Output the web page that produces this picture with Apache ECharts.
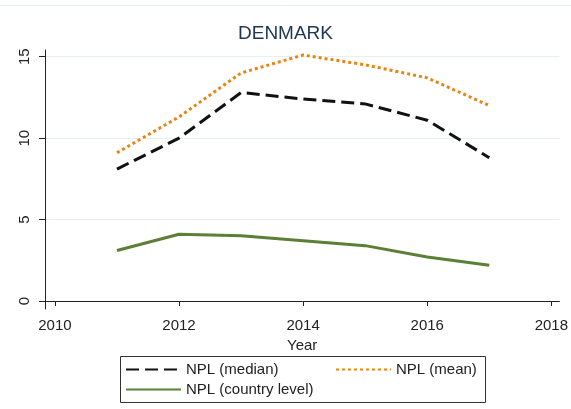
<!DOCTYPE html>
<html>
<head>
<meta charset="utf-8">
<script src="https://cdn.jsdelivr.net/npm/echarts@6/dist/echarts.min.js"></script>
<style>
  html, body { margin: 0; padding: 0; background: #fff; }
  #chart { width: 571px; height: 409px; }
</style>
</head>
<body>
<div id="chart"></div>
<script>
// values
var years = [2011, 2012, 2013, 2014, 2015, 2016, 2017];
var nplMedian = [8.1, 10.0, 12.8, 12.4, 12.1, 11.1, 8.8];
var nplMean = [9.1, 11.3, 14.0, 15.1, 14.5, 13.7, 12.0];
var nplCountry = [3.1, 4.1, 4.0, 3.7, 3.4, 2.7, 2.2];
var xTicks = [2010, 2012, 2014, 2016, 2018];
var yTicks = [0, 5, 10, 15];

function pairs(vals) {
    return years.map(function (y, i) { return [y, vals[i]]; });
}

var font = 'Arial, "Liberation Sans", sans-serif';
var axisColor = '#222';
var noSymbol = { color: 'transparent', borderColor: 'transparent', borderWidth: 0 };

var chart = echarts.init(document.getElementById('chart'));
chart.setOption({
    backgroundColor: '#fff',
    animation: false,
    title: {
        text: 'DENMARK',
        left: 'center',
        top: 19,
        textStyle: { fontFamily: font, fontSize: 19, fontWeight: 'normal', color: '#1e3553' }
    },
    grid: { left: 45, right: 11, top: 50, bottom: 100 },
    xAxis: {
        type: 'value',
        min: 2009.84,
        max: 2018.13,
        name: 'Year',
        nameLocation: 'middle',
        nameGap: 25,
        nameTextStyle: { fontFamily: font, fontSize: 15, color: axisColor },
        axisLine: { lineStyle: { color: axisColor, width: 1 } },
        axisTick: { length: 5, customValues: xTicks, lineStyle: { color: axisColor } },
        axisLabel: {
            customValues: xTicks, margin: 9, fontFamily: font, fontSize: 15, color: axisColor,
            formatter: function (v) { return String(v); }
        },
        splitLine: { show: false }
    },
    yAxis: {
        type: 'value',
        min: -0.49,
        max: 15.41,
        axisLine: { show: true, lineStyle: { color: axisColor, width: 1 } },
        axisTick: { show: true, length: 6, customValues: yTicks, lineStyle: { color: axisColor } },
        axisLabel: { customValues: yTicks, rotate: 90, margin: 13, fontFamily: font, fontSize: 15, color: axisColor },
        splitLine: { show: true, lineStyle: { color: '#e6eff1', width: 1 } }
    },
    legend: [{
        data: ['NPL (median)', 'NPL (country level)'],
        orient: 'vertical',
        left: 125,
        top: 362,
        itemWidth: 55,
        itemHeight: 14,
        itemGap: 5,
        padding: 0,
        itemStyle: noSymbol,
        textStyle: { fontFamily: font, fontSize: 15, color: axisColor }
    }, {
        data: ['NPL (mean)'],
        orient: 'vertical',
        left: 335,
        top: 362,
        itemWidth: 55,
        itemHeight: 14,
        padding: 0,
        itemStyle: noSymbol,
        textStyle: { fontFamily: font, fontSize: 15, color: axisColor }
    }],
    graphic: [{
        type: 'rect',
        shape: { x: 120.5, y: 356.5, width: 365, height: 46 },
        style: { fill: null, stroke: '#333', lineWidth: 1 },
        silent: true
    }, {
        type: 'line',
        shape: { x1: 0, y1: 5.5, x2: 571, y2: 5.5 },
        style: { stroke: '#e8eef0', lineWidth: 1 },
        silent: true
    }],
    series: [{
        name: 'NPL (median)',
        type: 'line',
        data: pairs(nplMedian),
        symbol: 'none',
        color: '#111',
        lineStyle: { color: '#111', width: 3, type: [13, 6] }
    }, {
        name: 'NPL (mean)',
        type: 'line',
        data: pairs(nplMean),
        symbol: 'none',
        color: '#e8830f',
        lineStyle: { color: '#e8830f', width: 3, type: [3, 3] }
    }, {
        name: 'NPL (country level)',
        type: 'line',
        data: pairs(nplCountry),
        symbol: 'none',
        color: '#5b7f35',
        lineStyle: { color: '#5b7f35', width: 3 }
    }]
});
</script>
</body>
</html>
